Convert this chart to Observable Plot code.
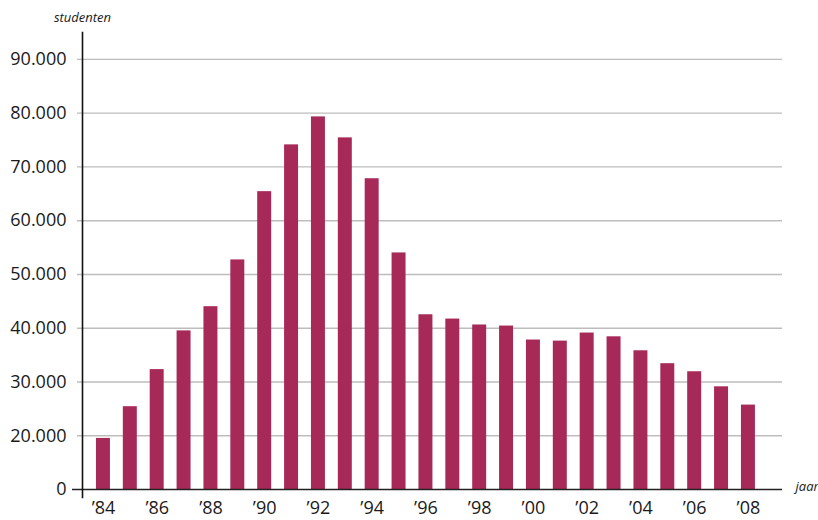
<!DOCTYPE html>
<html>
<head>
<meta charset="utf-8">
<script src="https://cdn.jsdelivr.net/npm/d3@7"></script>
<script src="https://cdn.jsdelivr.net/npm/@observablehq/plot@0.6"></script>
<style>
  html, body { margin: 0; padding: 0; background: #fff; }
</style>
</head>
<body>
<div id="chart"></div>
<script>
// Data (Dutch student numbers per year)
const years = [1984, 1985, 1986, 1987, 1988, 1989, 1990, 1991, 1992, 1993, 1994, 1995, 1996,
               1997, 1998, 1999, 2000, 2001, 2002, 2003, 2004, 2005, 2006, 2007, 2008];
const students = [19500, 25400, 32300, 39500, 44000, 52700, 65400, 74100, 79300, 75400, 67800, 54000, 42500,
                  41700, 40600, 40400, 37800, 37600, 39100, 38400, 35800, 33400, 31900, 29100, 25700];

// The value axis is broken: the baseline labelled "0" sits where 10.000 would be
const axisFloor = 10000;
const axisTop = 95000;
const yTicks = [10000, 20000, 30000, 40000, 50000, 60000, 70000, 80000, 90000];
const yTickLabels = ["0", "20.000", "30.000", "40.000", "50.000", "60.000", "70.000", "80.000", "90.000"];
const xTickYears = [1984, 1986, 1988, 1990, 1992, 1994, 1996, 1998, 2000, 2002, 2004, 2006, 2008];
const xTickLabels = ["’84", "’86", "’88", "’90", "’92", "’94", "’96", "’98", "’00", "’02", "’04", "’06", "’08"];
const yAxisTitle = "studenten";
const xAxisTitle = "jaar";

const data = years.map((year, i) => ({year, value: students[i]}));

const barColor = "#a62958";
const textColor = "#1a1a1a";

const chart = Plot.plot({
  width: 818,
  height: 520,
  marginLeft: 82,
  marginRight: 36,
  marginTop: 32,
  marginBottom: 31,
  style: {fontFamily: "'Open Sans', 'Noto Sans', sans-serif", fontSize: "18px", color: textColor, background: "#fff", overflow: "visible"},
  x: {type: "band", domain: years, paddingInner: 0.48, paddingOuter: 0.7635, align: 0.34, round: false, axis: null},
  y: {domain: [axisFloor, axisTop], axis: null},
  marks: [
    Plot.ruleY(yTicks.slice(1), {stroke: "#bdbdbd", strokeWidth: 1.4, insetLeft: -5}),
    Plot.barY(data, {x: "year", y1: axisFloor, y2: "value", fill: barColor}),
    Plot.ruleY([axisFloor], {stroke: "#222", strokeWidth: 1.5, insetLeft: -10}),
    Plot.frame({anchor: "left", stroke: "#111", strokeWidth: 1.6, insetBottom: -8}),
    Plot.axisY({
      ticks: yTicks,
      tickFormat: d => yTickLabels[yTicks.indexOf(d)],
      tickSize: 0,
      tickPadding: 16,
      fontSize: 18,
      label: null
    }),
    Plot.axisX({
      ticks: xTickYears,
      tickFormat: d => xTickLabels[xTickYears.indexOf(d)],
      tickSize: 0,
      tickPadding: 12,
      fontSize: 18,
      label: null
    }),
    Plot.text([yAxisTitle], {
      text: d => d,
      frameAnchor: "top-left",
      textAnchor: "middle",
      lineAnchor: "bottom",
      dy: -10.5,
      fontSize: 13,
      fontStyle: "italic",
      fill: textColor
    }),
    Plot.text([xAxisTitle], {
      text: d => d,
      frameAnchor: "bottom-right",
      textAnchor: "start",
      lineAnchor: "bottom",
      dx: 13,
      dy: 1.5,
      fontSize: 13,
      fontStyle: "italic",
      fill: textColor
    })
  ]
});

document.getElementById("chart").appendChild(chart);
</script>
</body>
</html>
